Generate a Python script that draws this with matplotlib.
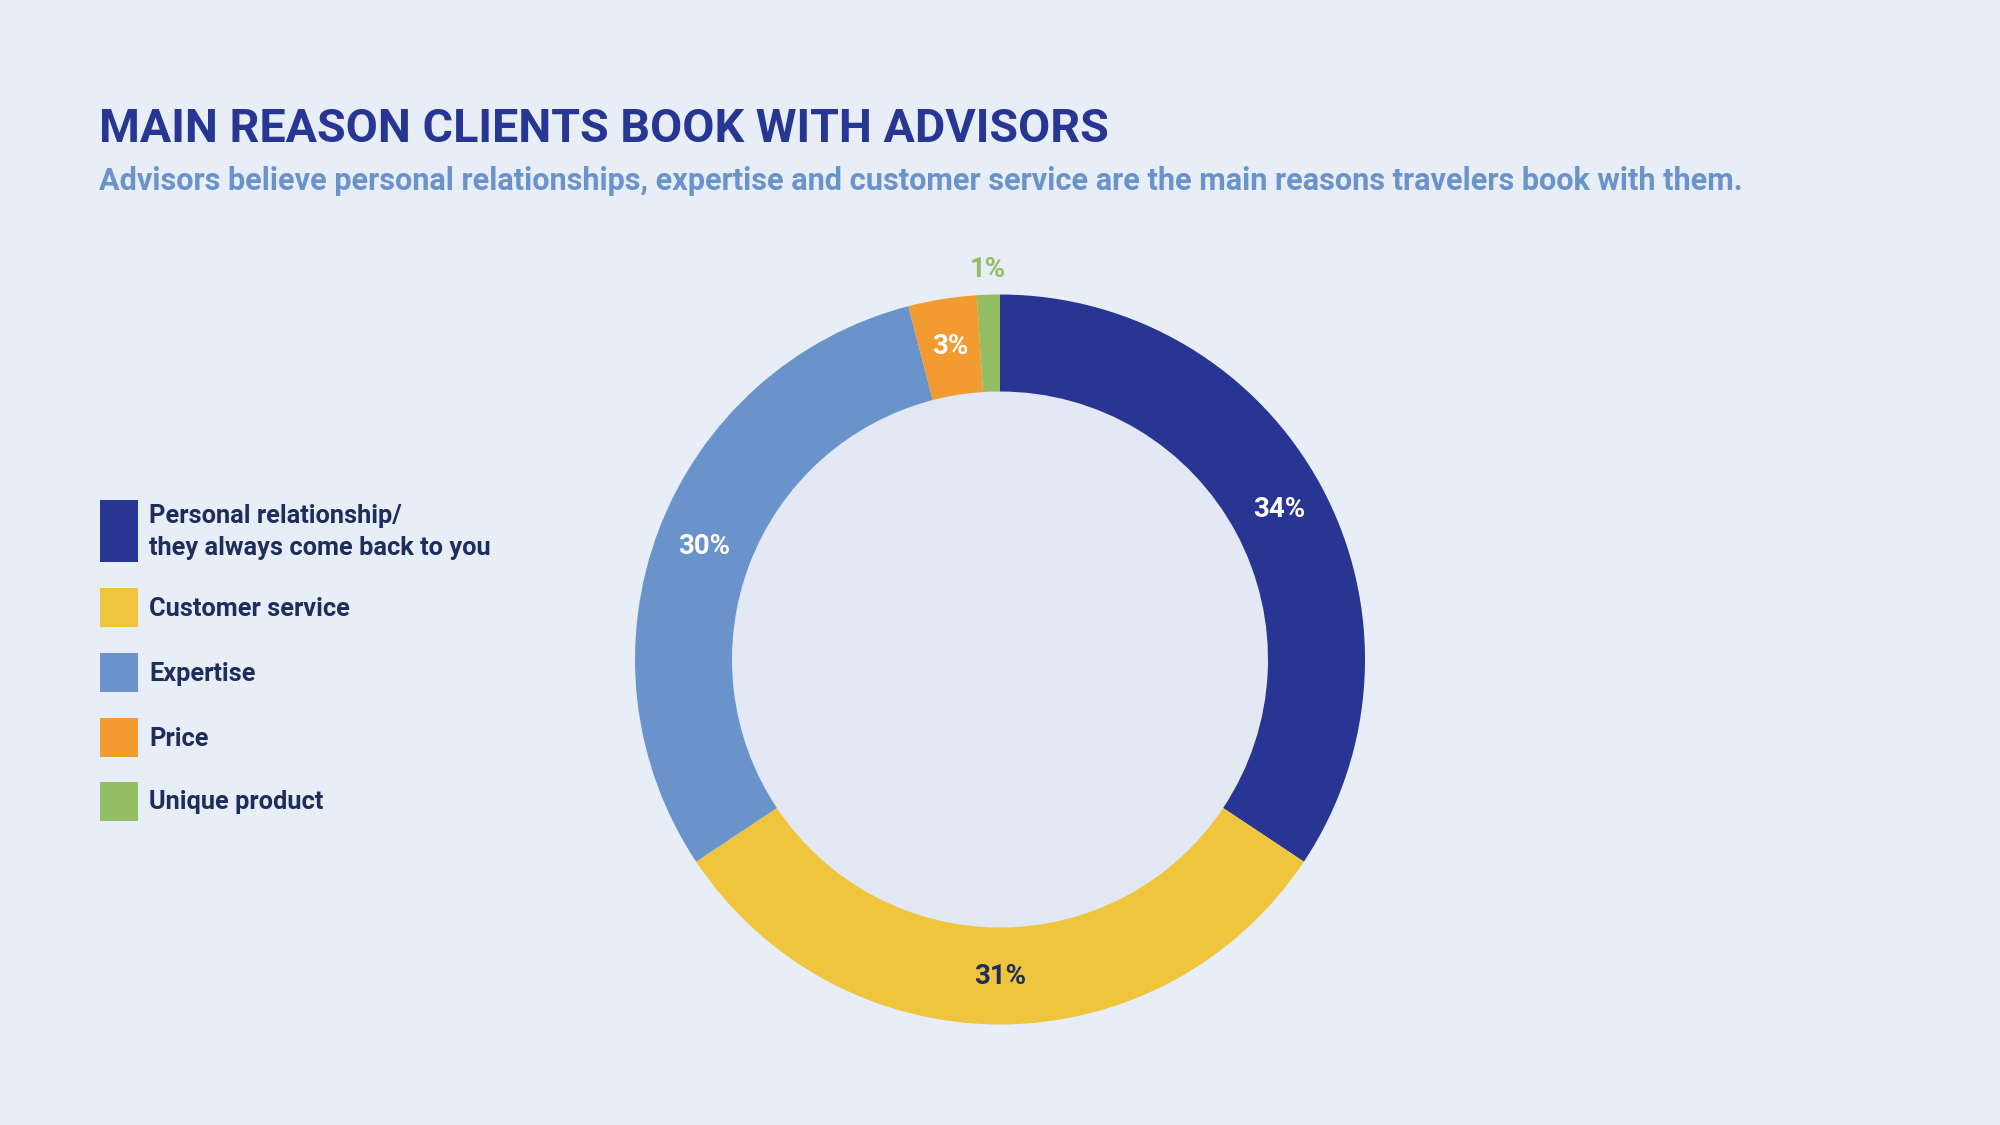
import matplotlib
matplotlib.use("Agg")
import matplotlib.pyplot as plt
from matplotlib.patches import Rectangle, Circle
import numpy as np

FONT = "Roboto"

categories = ["Personal relationship/\nthey always come back to you", "Customer service",
              "Expertise", "Price", "Unique product"]
values = [34, 31, 30, 3, 1]
labels = ["34%", "31%", "30%", "3%", "1%"]

colors = ["#283593", "#EEC53D", "#6B93CB", "#F29B30", "#93BE63"]
label_colors = ["white", "#1E2D5C", "white", "white", "#93BE63"]
label_dist = [0.868, 0.868, 0.868, 0.868, 1.07]
BG = "#E8EEF8"
INNER = "#E2E9F5"
NAVY = "#1E2D5C"

W, H = 2000, 1125
fig = plt.figure(figsize=(20, 11.25), dpi=100)
fig.patch.set_facecolor(BG)
renderer = fig.canvas.get_renderer()


def fit(t, target_px):
    w = t.get_window_extent(renderer).width
    t.set_fontsize(t.get_fontsize() * target_px / w)


title = fig.text(99 / W, 1 - 142 / H, "MAIN REASON CLIENTS BOOK WITH ADVISORS",
                 fontfamily=FONT, fontweight="bold", fontsize=40, color="#273593",
                 ha="left", va="baseline")
fit(title, 1010)
sub = fig.text(99 / W, 1 - 190 / H,
               "Advisors believe personal relationships, expertise and customer service are the main reasons travelers book with them.",
               fontfamily=FONT, fontweight="bold", fontsize=24, color="#6A93CC",
               ha="left", va="baseline")
fit(sub, 1647)

# Donut
cx, cy, R = 1000, 659.5, 365
half = 400
ax = fig.add_axes([(cx - half) / W, (H - cy - half) / H, 2 * half / W, 2 * half / H])
ax.add_patch(Circle((0, 0), 268 / R, facecolor=INNER, edgecolor="none", zorder=0))
wedges, _ = ax.pie(values, colors=colors, startangle=90, counterclock=False,
                   radius=1, wedgeprops=dict(width=(R - 268) / R, linewidth=0))
ax.set_xlim(-half / R, half / R)
ax.set_ylim(-half / R, half / R)
ax.set_aspect("equal")
ax.axis("off")
pct_texts = []
for w, lab, lc, d in zip(wedges, labels, label_colors, label_dist):
    ang = np.deg2rad((w.theta1 + w.theta2) / 2)
    t = ax.text(d * np.cos(ang), d * np.sin(ang), lab, ha="center", va="center",
                fontfamily=FONT, fontweight="bold", fontsize=20, color=lc)
    pct_texts.append(t)
w34 = pct_texts[0].get_window_extent(renderer).width
for t in pct_texts:
    t.set_fontsize(20 * 52 / w34)

# Legend
leg = fig.add_axes([0, 0, 1, 1])
leg.set_xlim(0, W)
leg.set_ylim(H, 0)
leg.axis("off")
boxes = [(500, 562), (588, 627), (653, 692), (718, 757), (782, 821)]
legtexts = []
for (y0, y1), c, cat in zip(boxes, colors, categories):
    leg.add_patch(Rectangle((100, y0), 38, y1 - y0, facecolor=c, edgecolor="none"))
    t = leg.text(149, (y0 + y1) / 2 + 1, cat, ha="left", va="center", fontfamily=FONT,
                 fontweight="bold", fontsize=20, color=NAVY, linespacing=1.4)
    legtexts.append(t)
wcs = legtexts[1].get_window_extent(renderer).width
for t in legtexts:
    t.set_fontsize(20 * 200 / wcs)

fig.savefig("out.png", dpi=100, facecolor=BG)
